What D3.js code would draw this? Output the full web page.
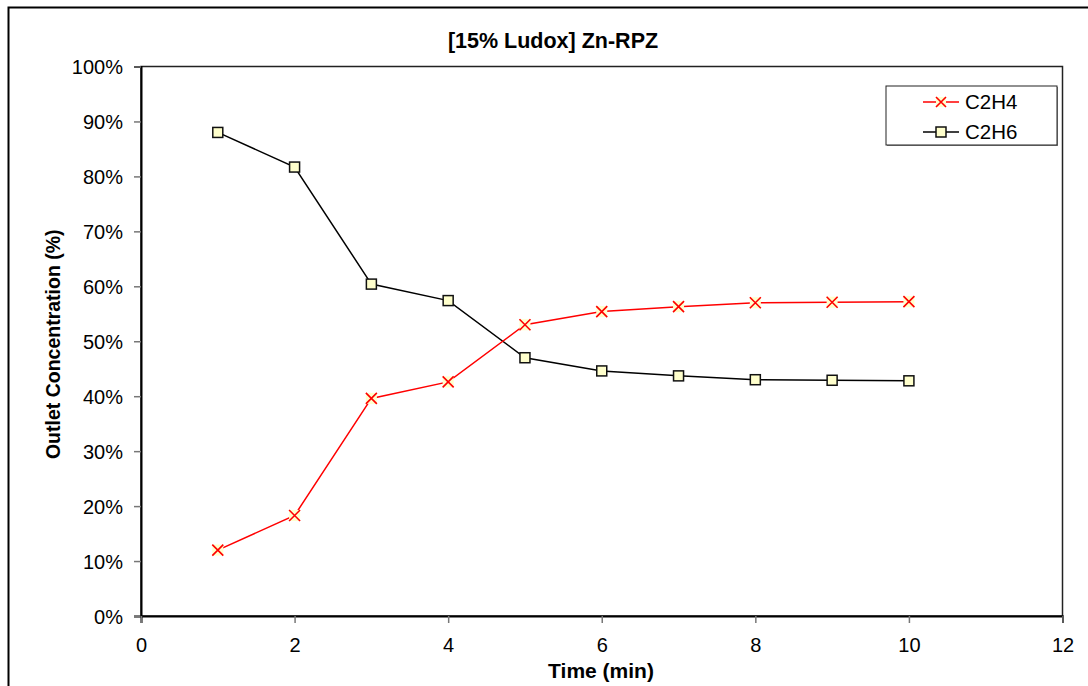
<!DOCTYPE html>
<html>
<head>
<meta charset="utf-8">
<script src="https://cdn.jsdelivr.net/npm/d3@7"></script>
<style>
  html, body { margin: 0; padding: 0; background: #fff; }
  svg { display: block; font-family: "Liberation Sans", Arial, sans-serif; }
</style>
</head>
<body>
<svg id="chart" width="1088" height="686"></svg>
<script>
// Time points (min)
const times = [1, 2, 3, 4, 5, 6, 7, 8, 9, 10];
// Outlet concentration (%)
const c2h4 = [12.0, 18.3, 39.6, 42.6, 53.0, 55.4, 56.3, 57.0, 57.1, 57.2];
const c2h6 = [88.0, 81.7, 60.4, 57.4, 47.0, 44.6, 43.7, 43.0, 42.9, 42.8];
const seriesNames = ["C2H4", "C2H6"];
const xTicks = [0, 2, 4, 6, 8, 10, 12];
const yTicks = [0, 10, 20, 30, 40, 50, 60, 70, 80, 90, 100];

const svg = d3.select("#chart");
const plot = { left: 141, top: 66.5, right: 1062.5, bottom: 616 };

const x = d3.scaleLinear().domain([0, 12]).range([plot.left, plot.right]);
const y = d3.scaleLinear().domain([0, 100]).range([plot.bottom, plot.top]);

// outer chart frame
svg.append("rect")
  .attr("x", 8.5).attr("y", 7.5)
  .attr("width", 1090).attr("height", 690)
  .attr("fill", "#fff").attr("stroke", "#000").attr("stroke-width", 2);

// plot area frame
svg.append("rect")
  .attr("x", plot.left).attr("y", plot.top)
  .attr("width", plot.right - plot.left).attr("height", plot.bottom - plot.top)
  .attr("fill", "none").attr("stroke", "#222").attr("stroke-width", 1.5);

// axes
const yAxis = svg.append("g")
  .attr("transform", `translate(${plot.left},0)`)
  .call(d3.axisLeft(y).tickValues(yTicks).tickSize(7).tickPadding(11)
    .tickFormat(d => d + "%"));
const xAxis = svg.append("g")
  .attr("transform", `translate(0,${plot.bottom})`)
  .call(d3.axisBottom(x).tickValues(xTicks).tickSize(7).tickPadding(15));

[yAxis, xAxis].forEach(g => {
  g.select(".domain").attr("stroke", "#000").attr("stroke-width", 2);
  g.selectAll(".tick line").attr("stroke", "#777").attr("stroke-width", 1.5);
  g.selectAll(".tick text")
    .attr("fill", "#000")
    .style("font-size", "20px")
    .style("font-family", "'Liberation Sans', Arial, sans-serif");
});
yAxis.selectAll(".tick text").attr("dy", "0.35em");

// titles
svg.append("text")
  .attr("x", 553).attr("y", 48)
  .attr("text-anchor", "middle")
  .style("font-size", "21.5px").style("font-weight", "bold")
  .text("[15% Ludox] Zn-RPZ");

svg.append("text")
  .attr("x", 601).attr("y", 678)
  .attr("text-anchor", "middle")
  .style("font-size", "21px").style("font-weight", "bold")
  .text("Time (min)");

svg.append("text")
  .attr("transform", `translate(60,${(plot.top + plot.bottom) / 2 + 3}) rotate(-90)`)
  .attr("text-anchor", "middle")
  .style("font-size", "19.5px").style("font-weight", "bold")
  .text("Outlet Concentration (%)");

// series
const line = d3.line().x(d => x(d[0])).y(d => y(d[1]));
const fillYellow = "#ffffcc";

function drawCross(g, cx, cy, s) {
  g.append("rect")
    .attr("x", cx - s).attr("y", cy - s)
    .attr("width", 2 * s).attr("height", 2 * s)
    .attr("fill", fillYellow);
  g.append("path")
    .attr("d", `M${cx - s},${cy - s}L${cx + s},${cy + s}M${cx - s},${cy + s}L${cx + s},${cy - s}`)
    .attr("stroke", "#ff0000").attr("stroke-width", 1.6).attr("fill", "none");
}
function drawSquare(g, cx, cy, s) {
  g.append("rect")
    .attr("x", cx - s).attr("y", cy - s)
    .attr("width", 2 * s).attr("height", 2 * s)
    .attr("fill", fillYellow).attr("stroke", "#111").attr("stroke-width", 1.5);
}

const d6 = times.map((t, i) => [t, c2h6[i]]);
const d4 = times.map((t, i) => [t, c2h4[i]]);

svg.append("path").datum(d6)
  .attr("d", line).attr("fill", "none")
  .attr("stroke", "#000").attr("stroke-width", 1.5);
svg.append("path").datum(d4)
  .attr("d", line).attr("fill", "none")
  .attr("stroke", "#ff0000").attr("stroke-width", 1.5);

const m6 = svg.append("g");
d6.forEach(d => drawSquare(m6, x(d[0]), y(d[1]), 5));
const m4 = svg.append("g");
d4.forEach(d => drawCross(m4, x(d[0]), y(d[1]), 5.5));

// legend
const lg = svg.append("g");
lg.append("rect")
  .attr("x", 887).attr("y", 87).attr("width", 171).attr("height", 59)
  .attr("fill", "#888");
lg.append("rect")
  .attr("x", 886).attr("y", 86).attr("width", 171).attr("height", 59)
  .attr("fill", "#fff").attr("stroke", "#222").attr("stroke-width", 1);

const rows = [
  { name: seriesNames[0], color: "#ff0000", y: 102, draw: drawCross },
  { name: seriesNames[1], color: "#000", y: 132, draw: drawSquare }
];
rows.forEach(r => {
  lg.append("line")
    .attr("x1", 923).attr("x2", 959).attr("y1", r.y).attr("y2", r.y)
    .attr("stroke", r.color).attr("stroke-width", 1.5);
  r.draw(lg, 941, r.y, 5);
  lg.append("text")
    .attr("x", 965).attr("y", r.y).attr("dy", "0.36em")
    .style("font-size", "20.5px")
    .text(r.name);
});
</script>
</body>
</html>
